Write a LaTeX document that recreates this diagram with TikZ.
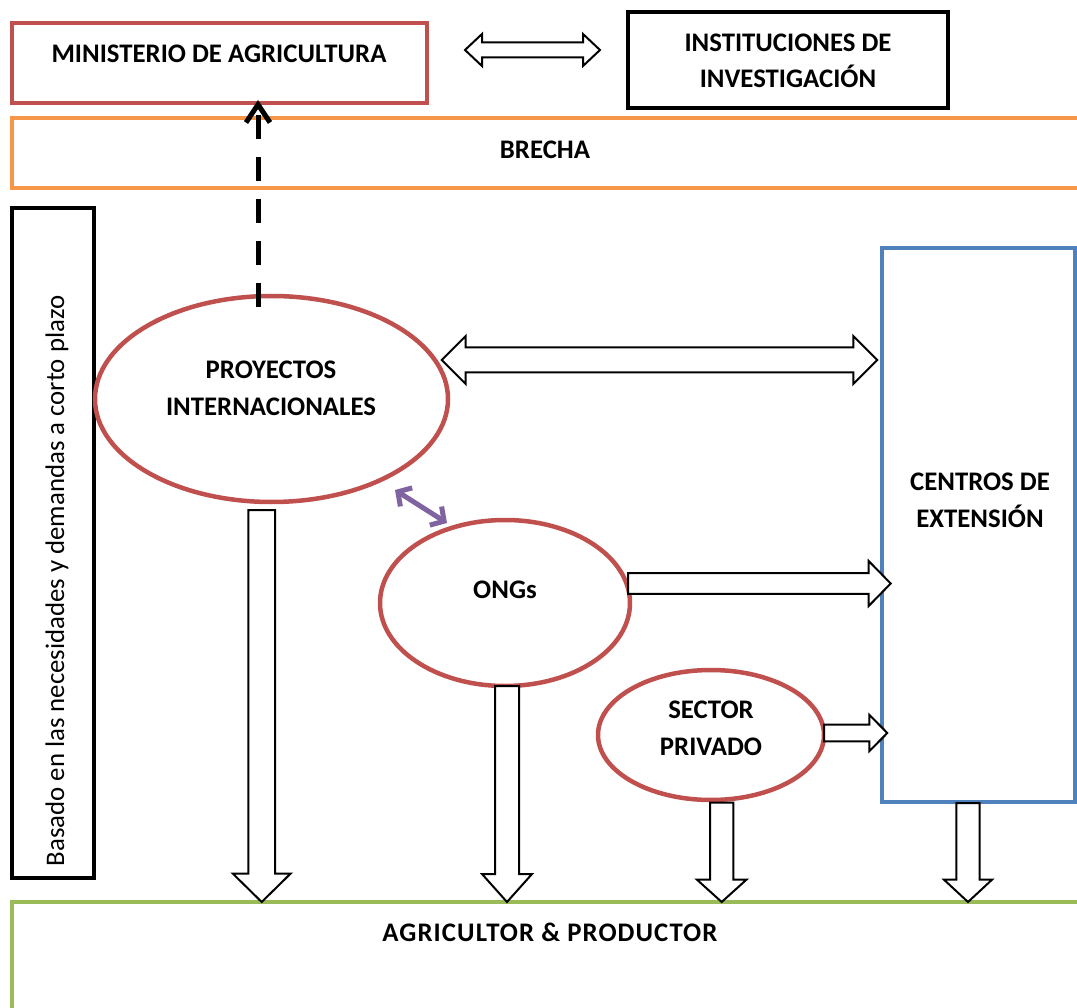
\documentclass[tikz,border=0pt]{standalone}
\usepackage{fontspec}
\setmainfont{Carlito}
\usetikzlibrary{calc,arrows.meta,shapes.geometric}

\definecolor{boxred}{HTML}{C0504D}
\definecolor{boxorange}{HTML}{F79646}
\definecolor{boxblue}{HTML}{4F81BD}
\definecolor{boxgreen}{HTML}{9BBB59}
\definecolor{linkpurple}{HTML}{8064A2}

% block arrow: from, to, shaft half width, head half width, head length
\newcommand\blockarrow[5]{%
  \path ($(#2)!#5!(#1)$) coordinate (ba-h);
  \draw[blockarrow] ($(#1)!#3!90:(#2)$) -- ($(ba-h)!#3!90:(#2)$)
    -- ($(ba-h)!#4!90:(#2)$) -- (#2) -- ($(ba-h)!#4!-90:(#2)$)
    -- ($(ba-h)!#3!-90:(#2)$) -- ($(#1)!#3!-90:(#2)$) -- cycle;
}
% double block arrow: end, end, shaft half width, head half width, head length
\newcommand\doubleblockarrow[5]{%
  \path ($(#1)!#5!(#2)$) coordinate (ba-a) ($(#2)!#5!(#1)$) coordinate (ba-b);
  \draw[blockarrow] (#1) -- ($(ba-a)!#4!90:(#2)$) -- ($(ba-a)!#3!90:(#2)$)
    -- ($(ba-b)!#3!90:(#2)$) -- ($(ba-b)!#4!90:(#2)$) -- (#2)
    -- ($(ba-b)!#4!-90:(#2)$) -- ($(ba-b)!#3!-90:(#2)$)
    -- ($(ba-a)!#3!-90:(#2)$) -- ($(ba-a)!#4!-90:(#2)$) -- cycle;
}

\begin{document}
\begin{tikzpicture}[x=1pt,y=-1pt,
  frame/.style={draw, rectangle, inner sep=0pt, outer sep=0pt, line width=3.5pt},
  oval/.style={draw=boxred, ellipse, inner sep=0pt, outer sep=0pt, line width=4.5pt},
  lbl/.style={font=\fontsize{26.8}{36.5}\selectfont\bfseries, align=center, inner sep=0pt},
  sidelbl/.style={font=\fontsize{26.8}{30}\selectfont, inner sep=0pt, rotate=90},
  blockarrow/.style={draw=black, line width=2pt, fill=white, line join=miter},
  dasharrow/.style={draw=black, line width=5pt, dash pattern=on 24pt off 18pt,
    -{Straight Barb[length=18pt,width=24pt]}},
  linkarrow/.style={draw=linkpurple, line width=5pt,
    {Straight Barb[length=10pt,width=22pt]}-{Straight Barb[length=10pt,width=22pt]}}]

\useasboundingbox (0,0) rectangle (1077,1008);
\clip (0,0) rectangle (1077,1008);
\fill[white] (0,0) rectangle (1077,1008);

% frames
\node[frame, draw=boxred, minimum width=415pt, minimum height=80pt] (mina) at (219.5,63) {};
\node[frame, draw=black, line width=4.5pt, minimum width=320pt, minimum height=96pt] (inst) at (788,60) {};
\node[frame, draw=boxorange, minimum width=1090pt, minimum height=70pt, anchor=west] (brecha) at (12,153) {};
\node[frame, draw=black, line width=4.5pt, minimum width=82pt, minimum height=670pt] (side) at (53,543) {};
\node[frame, draw=boxblue, minimum width=193pt, minimum height=554pt] (cent) at (978.5,525) {};
\node[frame, draw=boxgreen, minimum width=1090pt, minimum height=130pt, anchor=north west] (farm) at (12,902) {};

% ovals
\node[oval, minimum width=353pt, minimum height=206pt] (proy) at (271.5,399) {};
\node[oval, minimum width=250pt, minimum height=166pt] (ongs) at (505,603) {};
\node[oval, minimum width=226pt, minimum height=130pt] (sect) at (711,735) {};

% labels
\node[lbl] (mina-t) at (219,54) {MINISTERIO DE AGRICULTURA};
\node[lbl] (inst-t) at (788,61) {INSTITUCIONES DE\\INVESTIGACIÓN};
\node[lbl] (brecha-t) at (545,150) {BRECHA};
\node[lbl] (proy-t) at (271,388.5) {PROYECTOS\\INTERNACIONALES};
\node[lbl] (cent-t) at (980,500.5) {CENTROS DE\\EXTENSIÓN};
\node[lbl] (ongs-t) at (505,590) {ONGs};
\node[lbl] (sect-t) at (711,728.5) {SECTOR\\PRIVADO};
\node[lbl, font=\fontsize{26.8}{36.5}\selectfont\bfseries\addfontfeature{LetterSpace=4}] (farm-t) at (550,932) {AGRICULTOR \& PRODUCTOR};
\node[sidelbl] (side-t) at (57,581) {Basado en las necesidades y demandas a corto plazo};

% connector end points
\coordinate (ma) at ([xshift=38pt,yshift=13pt]mina.east);
\coordinate (ib) at ([xshift=-28pt]ma -| inst.west);
\coordinate (pc) at ([xshift=-6.3pt,yshift=39pt]proy.east);
\coordinate (cp) at ([xshift=-4.7pt]pc -| cent.west);
\coordinate (oc) at ([xshift=-2pt,yshift=19.5pt]ongs.east);
\coordinate (co) at ([xshift=8.7pt]oc -| cent.west);
\coordinate (sc) at ([yshift=2pt]sect.east);
\coordinate (cs) at ([xshift=5.3pt]sc -| cent.west);
\coordinate (pd) at ([xshift=-9.8pt,yshift=-8pt]proy.south);
\coordinate (od) at ([xshift=2pt]ongs.south);
\coordinate (sd) at ([xshift=10.7pt,yshift=-2.7pt]sect.south);
\coordinate (cd) at ([xshift=-10.5pt,yshift=-1pt]cent.south);
\coordinate (pu) at ([xshift=-13.5pt,yshift=-11pt]proy.north);
\coordinate (mu) at ([yshift=3pt]pu |- mina.south);
\coordinate (pa) at (395,490);
\coordinate (ob) at (447,523);

% block arrows
\doubleblockarrow{ma}{ib}{7.5pt}{16pt}{17pt}
\doubleblockarrow{pc}{cp}{12.5pt}{24pt}{24pt}
\blockarrow{oc}{co}{10.3pt}{22.5pt}{22pt}
\blockarrow{sc}{cs}{8.3pt}{18.2pt}{18pt}
\blockarrow{pd}{pd |- farm.north}{13.3pt}{29pt}{28.5pt}
\blockarrow{od}{od |- farm.north}{12pt}{25pt}{28pt}
\blockarrow{sd}{sd |- farm.north}{11.7pt}{24.7pt}{22.3pt}
\blockarrow{cd}{cd |- farm.north}{11.7pt}{24pt}{22.3pt}

% line connectors
\draw[dasharrow] (pu) -- (mu);
\draw[linkarrow] (pa) -- (ob);

\end{tikzpicture}
\end{document}
